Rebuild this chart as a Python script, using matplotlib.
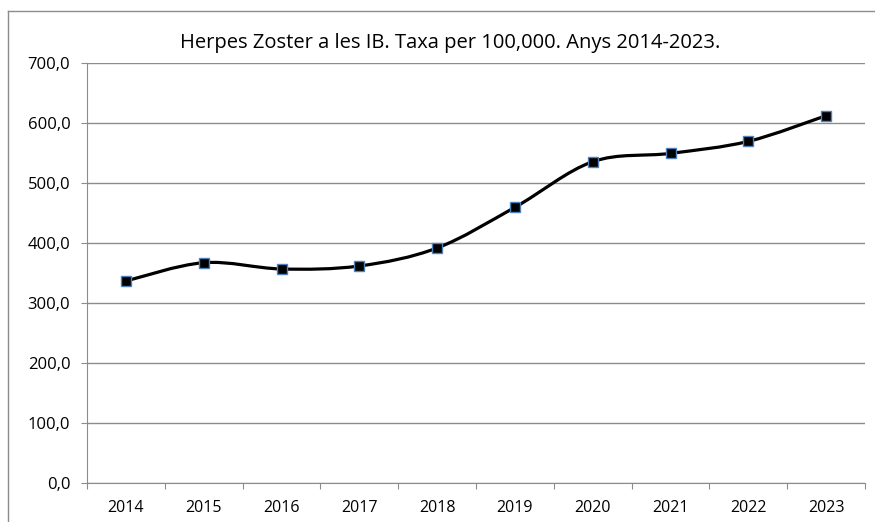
import numpy as np
import matplotlib
matplotlib.use("Agg")
import matplotlib.pyplot as plt
from matplotlib.path import Path
from matplotlib.patches import PathPatch
from matplotlib.lines import Line2D
from matplotlib.ticker import FuncFormatter

years = ["2014", "2015", "2016", "2017", "2018", "2019", "2020", "2021", "2022", "2023"]
taxa = [336.7, 367.2, 356.7, 361.7, 391.7, 459.5, 535.5, 549.4, 569.4, 612.2]
title = "Herpes Zoster a les IB. Taxa per 100,000. Anys 2014-2023."

plt.rcParams["font.family"] = ["Open Sans", "DejaVu Sans"]

fig = plt.figure(figsize=(8.75, 5.22), dpi=100)
fig.patch.set_facecolor("white")
# outer chart frame (only left and top visible)
fx, fy = 7.5/875, 1 - 10.5/522
fig.lines.append(Line2D([fx, fx], [0, fy], transform=fig.transFigure,
                        color="#8c8c8c", linewidth=1.0))
fig.lines.append(Line2D([fx, 1.0], [fy, fy], transform=fig.transFigure,
                        color="#8c8c8c", linewidth=1.0))

ax = fig.add_axes([87/875, 1-483/522, (865-87)/875, (483-63)/522])

x = np.arange(1, len(taxa) + 1, dtype=float)
y = np.array(taxa)

# smooth line like Excel (catmull-rom as bezier curves)
pts = np.column_stack([x, y])
ext = np.vstack([pts[0], pts, pts[-1]])
verts = [pts[0]]
codes = [Path.MOVETO]
for i in range(len(pts) - 1):
    p0, p1, p2, p3 = ext[i], ext[i+1], ext[i+2], ext[i+3]
    c1 = p1 + (p2 - p0) / 6
    c2 = p2 - (p3 - p1) / 6
    verts += [c1, c2, p2]
    codes += [Path.CURVE4] * 3
ax.add_patch(PathPatch(Path(verts, codes), fill=False, edgecolor="black",
                       linewidth=2.3, zorder=3, capstyle="round"))
ax.plot(x, y, linestyle="none", marker="s", markersize=6.5,
        markerfacecolor="black", markeredgecolor="#4f81bd",
        markeredgewidth=1.0, zorder=4)

ax.set_xlim(0.5, len(taxa) + 0.5)
ax.set_ylim(0, 700)
ax.set_yticks(np.arange(0, 701, 100))
ax.yaxis.set_major_formatter(FuncFormatter(lambda v, p: f"{v:.1f}".replace(".", ",")))
ax.set_xticks(np.arange(0.5, len(taxa) + 1, 1.0))
ax.set_xticklabels([])
ax.set_xticks(x, minor=True)
ax.set_xticklabels(years, minor=True)
ax.tick_params(axis="x", which="minor", length=0, pad=12, labelsize=11.5)
ax.tick_params(axis="x", which="major", length=4.5, color="#8c8c8c", direction="out")
ax.tick_params(axis="y", length=4.5, color="#8c8c8c", pad=7.5, labelsize=12)

ax.grid(axis="y", color="#8c8c8c", linewidth=1.0)
ax.set_axisbelow(True)
for s in ["top", "right"]:
    ax.spines[s].set_visible(False)
for s in ["left", "bottom"]:
    ax.spines[s].set_color("#8c8c8c")

fig.text(450/875, 1-43/522, title, ha="center", va="center", fontsize=14.5)

fig.savefig("out.png", dpi=100)
